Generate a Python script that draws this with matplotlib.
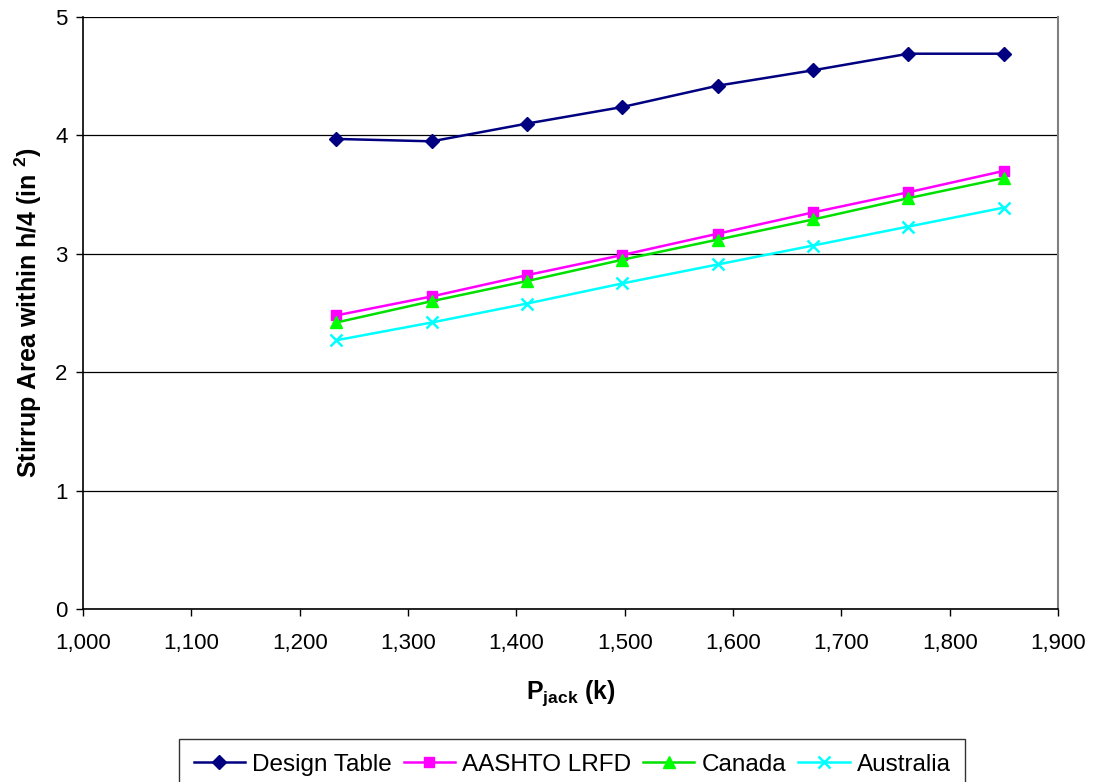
import matplotlib
matplotlib.use("Agg")
import matplotlib.pyplot as plt
from matplotlib.ticker import FuncFormatter

plt.rcParams['font.family'] = ['Liberation Sans', 'DejaVu Sans']
plt.rcParams['mathtext.fontset'] = 'custom'
plt.rcParams['mathtext.bf'] = 'Liberation Sans:bold'
plt.rcParams['mathtext.rm'] = 'Liberation Sans'

# P_jack values (k)
p_jack = [1234, 1322, 1410, 1498, 1586, 1674, 1762, 1850]

# stirrup area within h/4 (in^2)
design_table = [3.97, 3.95, 4.10, 4.24, 4.42, 4.55, 4.69, 4.69]
aashto_lrfd = [2.48, 2.64, 2.82, 2.99, 3.17, 3.35, 3.52, 3.70]
canada = [2.42, 2.60, 2.77, 2.95, 3.12, 3.29, 3.47, 3.64]
australia = [2.27, 2.42, 2.58, 2.75, 2.91, 3.07, 3.23, 3.39]

x_ticks = list(range(1000, 2000, 100))
y_ticks = [0, 1, 2, 3, 4, 5]

fig = plt.figure(figsize=(10.94, 7.82), dpi=100)
ax = fig.add_axes([83 / 1094, 1 - 609 / 782, (1058 - 83) / 1094, (609 - 17) / 782])

ax.plot(p_jack, design_table, color='#000080', lw=1.8, marker='D', ms=7.5,
        label='Design Table', zorder=5)
ax.plot(p_jack, aashto_lrfd, color='#FF00FF', lw=1.8, marker='s', ms=7.5,
        label='AASHTO LRFD', zorder=5)
ax.plot(p_jack, canada, color='#00E000', mfc='#00FF00', mec='#00FF00', lw=1.8,
        marker='^', ms=8.5, label='Canada', zorder=5)
ax.plot(p_jack, australia, color='#00FFFF', lw=1.8, marker='x', ms=8.5, mew=1.8,
        label='Australia', zorder=5)

ax.set_xlim(1000, 1900)
ax.set_ylim(0, 5)
ax.set_xticks(x_ticks)
ax.set_yticks(y_ticks)
ax.xaxis.set_major_formatter(FuncFormatter(lambda v, p: f"{int(v):,}"))
ax.yaxis.grid(True, color='black', lw=0.9)
ax.set_axisbelow(True)

ax.spines['top'].set_visible(False)
ax.spines['right'].set_color('#808080')
ax.spines['right'].set_linewidth(1.5)
ax.spines['left'].set_linewidth(1.2)
ax.spines['bottom'].set_linewidth(1.2)

ax.tick_params(axis='both', direction='out', length=5, width=1, labelsize=16)
ax.tick_params(axis='x', pad=12)
ax.tick_params(axis='y', pad=6)

ax.set_xlabel(r'P$_{\mathbf{jack}}$ (k)', fontsize=18, fontweight='bold', labelpad=18)
ax.set_ylabel(r'Stirrup Area within h/4 (in $^{\mathbf{2}}$)', fontsize=18,
              fontweight='bold', labelpad=8)

leg = fig.legend(loc='upper center', bbox_to_anchor=(0.523, 1 - 739 / 782), ncol=4,
                 frameon=True, fancybox=False, edgecolor='black',
                 handlelength=2.1, handletextpad=0.3, columnspacing=0.5,
                 borderpad=0.6, borderaxespad=0, prop={'size': 17.5})
leg.get_frame().set_linewidth(1.0)

fig.savefig('out.png', dpi=100)
